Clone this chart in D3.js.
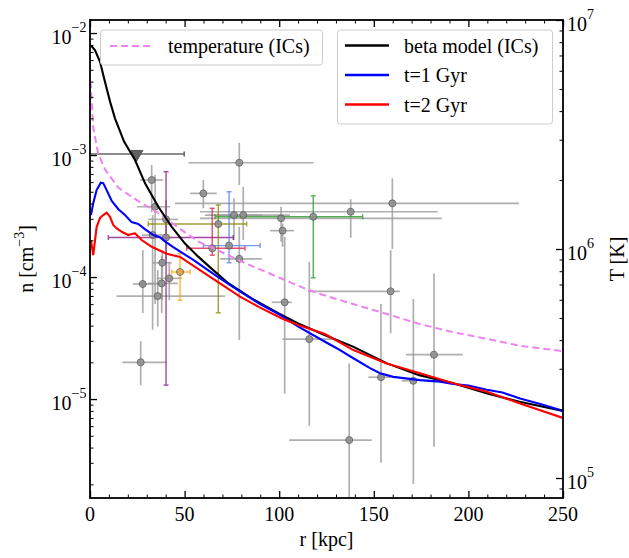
<!DOCTYPE html>
<html>
<head>
<meta charset="utf-8">
<script src="https://cdn.jsdelivr.net/npm/d3@7"></script>
<style>
  body { margin: 0; background: #fff; }
  text { font-family: "Liberation Serif", "DejaVu Serif", serif; fill: #000; }
</style>
</head>
<body>
<div id="chart"></div>
<script>
// beta model initial conditions
var rBeta = [0, 1, 2.6, 5.3, 7.9, 10.6, 13.2, 18, 23.8, 29.1, 36.1, 43.2, 50.2, 57.2, 65.1, 73.1, 85.4, 99.5, 110, 124, 139, 157, 174, 192, 210, 227, 250];
var nBeta = [7.9e-3, 7.76e-3, 7.24e-3, 5.82e-3, 3.98e-3, 2.74e-3, 2.0e-3, 1.29e-3, 9.1e-4, 5.86e-4, 3.77e-4, 2.58e-4, 1.88e-4, 1.47e-4, 1.14e-4, 8.9e-5, 6.68e-5, 5.05e-5, 4.17e-5, 3.35e-5, 2.69e-5, 1.96e-5, 1.57e-5, 1.35e-5, 1.11e-5, 9.5e-6, 8.0e-6];

// temperature of the ICs (right axis)
var rTemp = [0.3, 1.7, 2.6, 4.4, 7.9, 15, 25.5, 36, 46.7, 57, 65, 79, 100, 114, 122, 139, 157, 174, 192, 210, 227, 250];
var tempK = [5.4e6, 3.4e6, 3.1e6, 2.6e6, 2.23e6, 1.85e6, 1.62e6, 1.44e6, 1.24e6, 1.08e6, 1.01e6, 8.9e5, 7.5e5, 6.7e5, 6.35e5, 5.75e5, 5.2e5, 4.71e5, 4.33e5, 4.05e5, 3.78e5, 3.58e5];

// t = 1 Gyr
var rT1 = [0.5, 1.7, 3.5, 5.7, 7.0, 8.8, 11.5, 15, 18.5, 22, 25.5, 29, 33.5, 37, 39.6, 44, 54.6, 65.2, 75.7, 89.9, 100.4, 110.1, 124.2, 130.4, 139.2, 148, 153.3, 160.3, 174.4, 185, 192, 200, 209.7, 218, 227.3, 238, 250];
var nT1 = [3.22e-4, 4.02e-4, 5.16e-4, 5.93e-4, 5.89e-4, 5.16e-4, 4.2e-4, 3.6e-4, 3.22e-4, 2.82e-4, 2.72e-4, 2.47e-4, 2.21e-4, 2.12e-4, 1.96e-4, 1.76e-4, 1.38e-4, 1.06e-4, 8.28e-5, 6.01e-5, 4.89e-5, 3.92e-5, 2.95e-5, 2.61e-5, 2.16e-5, 1.79e-5, 1.63e-5, 1.52e-5, 1.43e-5, 1.39e-5, 1.33e-5, 1.29e-5, 1.19e-5, 1.13e-5, 1.01e-5, 9.1e-6, 8.0e-6];

// t = 2 Gyr
var rT2 = [0.5, 1.7, 3.5, 5.3, 7.0, 8.8, 10.6, 12.3, 14.1, 16.8, 20.2, 22, 23.8, 27.3, 32.6, 40.5, 47.6, 58.1, 68.7, 79.3, 89.9, 102, 110.1, 124.2, 139.2, 156.8, 174.4, 192, 209.7, 227.3, 250];
var nT2 = [2.01e-4, 1.51e-4, 2.57e-4, 3.05e-4, 3.22e-4, 3.37e-4, 3.12e-4, 2.67e-4, 2.5e-4, 2.35e-4, 2.21e-4, 2.25e-4, 2.28e-4, 2.01e-4, 1.77e-4, 1.55e-4, 1.46e-4, 1.14e-4, 8.87e-5, 6.9e-5, 5.62e-5, 4.53e-5, 4.05e-5, 3.41e-5, 2.52e-5, 1.96e-5, 1.63e-5, 1.35e-5, 1.15e-5, 9.2e-6, 7.0e-6];

// observed densities with error ranges
var obsSet  = ["lit","lit","lit","lit","lit","lit","lit","lit","lit","lit","lit","lit","lit","lit","lit","lit","lit","lit","lit","lit","lit","lit","lit","lit","lit","lit",
               "purple","olive","crimson","blue","green","orange"];
var obsR    = [78.9, 32.6, 59.9, 34.4, 40.2, 33.1, 38.2, 41.9, 27.9, 37.9, 35.8, 26.8, 76.1, 81.0, 78.9, 101.0, 101.8, 137.8, 159.8, 102.9, 115.9, 158.9, 137.0, 153.8, 170.9, 181.8,
               40.2, 67.8, 64.6, 73.5, 118.0, 47.6];
var obsN    = [8.65e-4, 6.24e-4, 4.85e-4, 3.77e-4, 2.97e-4, 2.21e-4, 1.31e-4, 9.76e-5, 8.77e-5, 8.87e-5, 6.98e-5, 2.0e-5, 3.22e-4, 3.22e-4, 1.41e-4, 3.03e-4, 2.40e-4, 3.43e-4, 4.02e-4, 6.21e-5, 3.10e-5, 7.64e-5, 4.61e-6, 1.51e-5, 1.41e-5, 2.31e-5,
               2.11e-4, 2.72e-4, 1.72e-4, 1.81e-4, 3.12e-4, 1.10e-4];
var obsRlo  = [52.0, 26.4, 52.9, 24.8, 30.7, 27.5, 32.8, 35.3, 22.7, 30.7, 14.1, 17.1, 60.8, 66.1, 68.7, 58.1, 95.1, 58.1, 44.9, 96.0, 101.8, 115.2, 105.3, 147.1, 164.7, 167.0,
               9.7, 30.8, 51.1, 59.9, 66.1, 43.2];
var obsRhi  = [118.1, 38.7, 67.0, 42.3, 46.5, 39.6, 43.3, 48.5, 37.0, 46.5, 71.4, 40.5, 90.9, 105.7, 90.8, 185.9, 107.8, 183.8, 226.7, 106.6, 129.5, 163.8, 148.9, 158.9, 172.7, 197.0,
               75.7, 82.8, 81.9, 89.9, 144.1, 52.9];
var obsNlo  = [5.68e-4, 3.41e-4, 3.66e-4, 6.0e-5, 1.38e-4, 3.7e-5, 6.47e-5, 6.47e-5, 5.07e-5, 5.07e-5, 3.92e-5, 1.30e-5, 2.01e-4, 2.01e-4, 3.05e-5, 1.95e-4, 1.77e-4, 2.1e-4, 1.70e-4, 1.11e-5, 6.04e-6, 3.46e-5, 1.0e-6, 3.0e-6, 2.01e-6, 4.06e-6,
               1.30e-5, 5.09e-5, 1.51e-4, 1.31e-4, 9.86e-5, 6.47e-5];
var obsNhi  = [1.26e-3, 8.28e-4, 6.24e-4, 6.85e-4, 4.27e-4, 3.22e-4, 1.66e-4, 1.33e-4, 1.66e-4, 1.49e-4, 1.14e-4, 2.98e-5, 4.42e-4, 5.5e-4, 2.58e-4, 3.77e-4, 2.75e-4, 4.34e-4, 6.44e-4, 2.14e-4, 1.33e-4, 1.66e-4, 1.96e-5, 6.01e-5, 6.61e-5, 1.07e-4,
               7.3e-4, 3.89e-4, 3.66e-4, 5.0e-4, 4.63e-4, 1.56e-4];

// upper limit (triangle)
var limR = [24.7], limN = [1.02e-3], limRlo = [0], limRhi = [49.8];

var xTicks = [0, 50, 100, 150, 200, 250];
var nTicks = [1e-5, 1e-4, 1e-3, 1e-2];
var tTicks = [1e5, 1e6, 1e7];

var setColor = {lit: "#9c9c9c", purple: "#8b1a8b", olive: "#8a8a00", crimson: "#e0204a", blue: "#5a7ee8", green: "#2e9a2e", orange: "#ffa500"};

var width = 629, height = 558;
var pLeft = 90, pRight = 563, pTop = 20, pBottom = 498;

var svg = d3.select("#chart").append("svg")
  .attr("width", width)
  .attr("height", height);

var x = d3.scaleLinear().domain([0, 250]).range([pLeft, pRight]);
var yN = d3.scaleLog().domain([1.545e-6, 1.279e-2]).range([pBottom, pTop]);
var yT = d3.scaleLog().domain([8.18e4, 1e7]).range([pBottom, pTop]);

svg.append("clipPath").attr("id", "clip")
  .append("rect").attr("x", pLeft).attr("y", pTop).attr("width", pRight - pLeft).attr("height", pBottom - pTop);

var plot = svg.append("g").attr("clip-path", "url(#clip)");

// error bars
var obs = obsR.map(function(r, i) {
  return {r: r, n: obsN[i], rlo: obsRlo[i], rhi: obsRhi[i], nlo: obsNlo[i], nhi: obsNhi[i], set: obsSet[i]};
});

obs.forEach(function(d) {
  var c = setColor[d.set], g = plot.append("g")
    .style("stroke", c)
    .style("stroke-width", d.set == "lit" ? 1.7 : 1.4)
    .style("opacity", 0.8);
  g.append("line").attr("x1", x(d.rlo)).attr("x2", x(d.rhi)).attr("y1", yN(d.n)).attr("y2", yN(d.n));
  g.append("line").attr("x1", x(d.r)).attr("x2", x(d.r)).attr("y1", yN(d.nlo)).attr("y2", yN(d.nhi));
  if (d.set != "lit") {
    [d.rlo, d.rhi].forEach(function(v) {
      g.append("line").attr("x1", x(v)).attr("x2", x(v)).attr("y1", yN(d.n) - 2.5).attr("y2", yN(d.n) + 2.5);
    });
    [d.nlo, d.nhi].forEach(function(v) {
      g.append("line").attr("x1", x(d.r) - 2.5).attr("x2", x(d.r) + 2.5).attr("y1", yN(v)).attr("y2", yN(v));
    });
  }
});

plot.selectAll(".pt")
  .data(obs).enter()
  .append("circle")
    .attr("cx", function(d) { return x(d.r); })
    .attr("cy", function(d) { return yN(d.n); })
    .attr("r", 3.5)
    .style("fill", function(d) { return d.set == "orange" ? "#e0a040" : "#8c8c8c"; })
    .style("stroke", "#555")
    .style("stroke-width", 0.9)
    .style("opacity", 0.85);

// upper limit
limR.forEach(function(r, i) {
  var yy = yN(limN[i]);
  var g = plot.append("g").style("stroke", "#666").style("stroke-width", 1.6);
  g.append("line").attr("x1", x(limRlo[i])).attr("x2", x(limRhi[i])).attr("y1", yy).attr("y2", yy);
  g.append("line").attr("x1", x(limRhi[i])).attr("x2", x(limRhi[i])).attr("y1", yy - 2.5).attr("y2", yy + 2.5);
  plot.append("path")
    .attr("d", d3.symbol().type(d3.symbolTriangle).size(65))
    .attr("transform", "translate(" + x(r) + "," + yy + ") rotate(180)")
    .style("fill", "#606060")
    .style("stroke", "#555");
});

// curves
function addLine(rs, vs, scale, color, dash, w) {
  var line = d3.line()
    .x(function(d) { return x(d[0]); })
    .y(function(d) { return scale(d[1]); });
  plot.append("path")
    .datum(rs.map(function(r, i) { return [r, vs[i]]; }))
    .attr("d", line)
    .style("fill", "none")
    .style("stroke", color)
    .style("stroke-width", w)
    .style("stroke-dasharray", dash);
}

addLine(rTemp, tempK, yT, "#ee82ee", "7,4", 2);
addLine(rBeta, nBeta, yN, "#000000", null, 2.1);
addLine(rT1, nT1, yN, "#0000ff", null, 2.1);
addLine(rT2, nT2, yN, "#ff0000", null, 2.1);

// axes (ticks point inward)
function minors(lo, hi) {
  var out = [];
  for (var e = lo; e <= hi; e++) for (var k = 2; k <= 9; k++) out.push(k * Math.pow(10, e));
  return out;
}
var xMinor = d3.range(0, 251, 10).filter(function(v) { return v % 50 != 0; });

function tickGroup(axis, tx, ty, w) {
  var g = svg.append("g").attr("transform", "translate(" + tx + "," + ty + ")").call(axis);
  g.select(".domain").remove();
  g.selectAll("text").remove();
  g.selectAll("line").style("stroke", "#000").style("stroke-width", w);
  return g;
}

tickGroup(d3.axisBottom(x).tickValues(xTicks).tickSize(-7), 0, pBottom, 1.3);
tickGroup(d3.axisBottom(x).tickValues(xMinor).tickSize(-3.5), 0, pBottom, 1);
tickGroup(d3.axisTop(x).tickValues(xTicks).tickSize(-7), 0, pTop, 1.3);
tickGroup(d3.axisTop(x).tickValues(xMinor).tickSize(-3.5), 0, pTop, 1);

var nMinor = minors(-6, -2).filter(function(v) { return v > 1.545e-6 && v < 1.279e-2; });
tickGroup(d3.axisLeft(yN).tickValues(nTicks).tickSize(-7), pLeft, 0, 1.3);
tickGroup(d3.axisLeft(yN).tickValues(nMinor).tickSize(-3.5), pLeft, 0, 1);

var tMinor = minors(4, 6).filter(function(v) { return v > 8.18e4 && v < 1e7; });
tickGroup(d3.axisRight(yT).tickValues(tTicks).tickSize(-7), pRight, 0, 1.3);
tickGroup(d3.axisRight(yT).tickValues(tMinor).tickSize(-3.5), pRight, 0, 1);

svg.append("rect")
  .attr("x", pLeft).attr("y", pTop)
  .attr("width", pRight - pLeft).attr("height", pBottom - pTop)
  .style("fill", "none").style("stroke", "#000").style("stroke-width", 1.8);

// tick labels
svg.selectAll(".xl")
  .data(xTicks).enter()
  .append("text")
    .attr("x", function(d) { return x(d); })
    .attr("y", 521)
    .attr("text-anchor", "middle")
    .style("font-size", "20px")
    .text(function(d) { return d; });

function powLabel(v, tx, ty, anchor) {
  var e = Math.round(Math.log10(v));
  var t = svg.append("text")
    .attr("x", tx).attr("y", ty + 10.5)
    .attr("text-anchor", anchor)
    .style("font-size", "20px");
  t.append("tspan").text("10");
  t.append("tspan").attr("dy", -11.5).style("font-size", "14px").text(String(e).replace("-", "\u2212"));
}
nTicks.forEach(function(v) { powLabel(v, 86.5, yN(v), "end"); });
tTicks.forEach(function(v) { powLabel(v, 567, yT(v), "start"); });

// axis titles
svg.append("text")
  .attr("x", (pLeft + pRight) / 2).attr("y", 546)
  .attr("text-anchor", "middle")
  .style("font-size", "20px")
  .text("r [kpc]");

var ny = svg.append("text")
  .attr("transform", "translate(33," + (pTop + pBottom) / 2 + ") rotate(-90)")
  .attr("text-anchor", "middle")
  .style("font-size", "20px");
ny.append("tspan").text("n [cm");
ny.append("tspan").attr("dy", -9).style("font-size", "14px").text("\u22123");
ny.append("tspan").attr("dy", 9).text("]");

svg.append("text")
  .attr("transform", "translate(624," + (pTop + pBottom) / 2 + ") rotate(-90)")
  .attr("text-anchor", "middle")
  .style("font-size", "20px")
  .text("T [K]");

// legends
function legendBox(x0, y0, w, h) {
  svg.append("rect")
    .attr("x", x0).attr("y", y0).attr("width", w).attr("height", h)
    .attr("rx", 3)
    .style("fill", "#fff").style("fill-opacity", 0.8)
    .style("stroke", "#cccccc").style("stroke-width", 1);
}

legendBox(100.5, 30, 222, 35);
svg.append("line")
  .attr("x1", 110).attr("x2", 152).attr("y1", 46).attr("y2", 46)
  .style("stroke", "#ee82ee").style("stroke-width", 2).style("stroke-dasharray", "7,4");
svg.append("text")
  .attr("x", 168).attr("y", 53)
  .style("font-size", "20px")
  .text("temperature (ICs)");

var legendData = [
  {color: "#000000", text: "beta model (ICs)"},
  {color: "#0000ff", text: "t=1 Gyr"},
  {color: "#ff0000", text: "t=2 Gyr"}
];

legendBox(337.5, 30, 215, 94);
var lg = svg.selectAll(".leg")
  .data(legendData).enter()
  .append("g");

lg.append("line")
  .attr("x1", 345).attr("x2", 389)
  .attr("y1", function(d, i) { return 45.5 + i * 29.5; })
  .attr("y2", function(d, i) { return 45.5 + i * 29.5; })
  .style("stroke", function(d) { return d.color; })
  .style("stroke-width", 2.5);

lg.append("text")
  .attr("x", 404)
  .attr("y", function(d, i) { return 52.5 + i * 29.5; })
  .style("font-size", "20px")
  .text(function(d) { return d.text; });
</script>
</body>
</html>
